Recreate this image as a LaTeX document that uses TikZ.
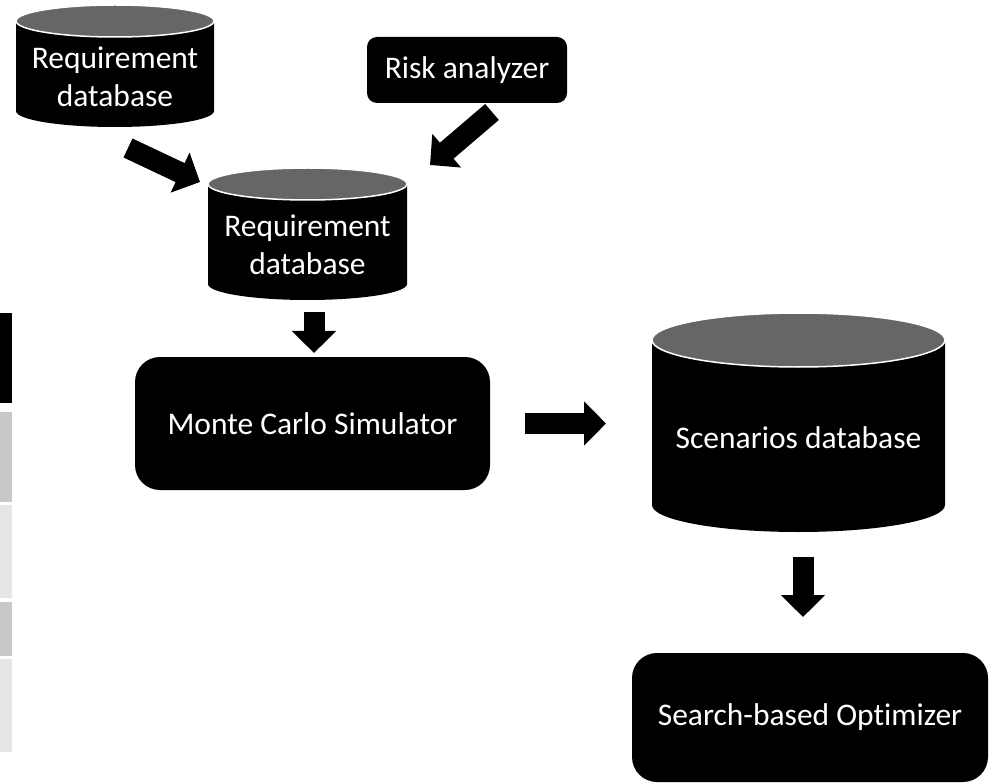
\documentclass[tikz,border=0pt]{standalone}
\usepackage{fontspec}
\setmainfont[Ligatures=NoCommon]{Carlito}
\usetikzlibrary{arrows.meta}
\definecolor{cyltop}{HTML}{666666}
\definecolor{stripA}{HTML}{C8C8C8}
\definecolor{stripB}{HTML}{E6E6E6}
\newcommand{\cylshape}[5]{%
  \fill[black] (#1-#2,#3) -- (#1-#2,#4) arc[start angle=180,end angle=360,x radius=#2,y radius=#5] -- (#1+#2,#3) -- cycle;
  \filldraw[fill=cyltop,draw=white,line width=1.5pt] (#1,#3) ellipse[x radius=#2,y radius=#5];
}
\tikzset{
  lbl/.style={text=white,align=center,font=\fontsize{31.5}{38}\selectfont,inner sep=0pt},
  blackbox/.style={fill=black,text=white,align=center,font=\fontsize{31.5}{38}\selectfont,inner sep=0pt,outer sep=0pt},
  blockarrow/.style={draw=black,line width=21pt,-{Triangle[length=22pt,width=43pt]}}
}
\begin{document}
\begin{tikzpicture}[x=1pt,y=1pt]
\useasboundingbox (0,0) rectangle (990,-783);
% left strip (cut-off table)
\fill[black] (0,-313) rectangle (12,-403);
\fill[stripA] (0,-412) rectangle (12,-502);
\fill[stripB] (0,-505) rectangle (12,-598);
\fill[stripA] (0,-602) rectangle (12,-656);
\fill[stripB] (0,-659) rectangle (12,-752);
% cylinders
\cylshape{115}{99}{-21}{-111}{16}
\node[lbl] (req1) at (115,-77) {Requirement\\database};
\cylshape{307.5}{99.5}{-184}{-284}{16}
\node[lbl] (req2) at (307.5,-245) {Requirement\\database};
\cylshape{798.5}{146.5}{-340}{-505}{27}
\node[lbl] (scen) at (798.5,-438) {Scenarios database};
% boxes
\node[blackbox,rounded corners=10pt,minimum width=200pt,minimum height=66pt] (risk) at (467,-70) {Risk analyzer};
\node[blackbox,rounded corners=25pt,minimum width=355pt,minimum height=133pt] (mc) at (312.5,-423.5) {Monte Carlo Simulator};
\node[blackbox,rounded corners=25pt,minimum width=356pt,minimum height=129pt] (opt) at (810,-717.5) {Search-based Optimizer};
% arrow end points
\coordinate (a1s) at (128,-148);
\coordinate (a1e) at (200,-182);
\coordinate (a2s) at (492,-112);
\coordinate (a2e) at (430,-165);
\coordinate (a3s) at (314,-312);
\coordinate (a3e) at (314,-353);
\coordinate (a4s) at (525,-423.5);
\coordinate (a4e) at (606,-423.5);
\coordinate (a5s) at (803,-557);
\coordinate (a5e) at (803,-617);
\draw[blockarrow] (a1s) -- (a1e);
\draw[blockarrow] (a2s) -- (a2e);
\draw[blockarrow] (a3s) -- (a3e);
\draw[blockarrow] (a4s) -- (a4e);
\draw[blockarrow] (a5s) -- (a5e);
\end{tikzpicture}
\end{document}
